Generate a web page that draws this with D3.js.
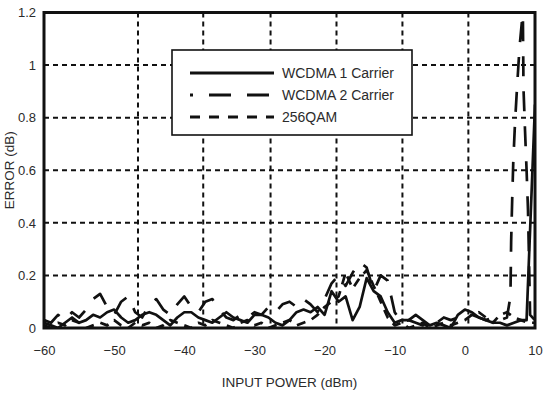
<!DOCTYPE html>
<html>
<head>
<meta charset="utf-8">
<script src="https://cdn.jsdelivr.net/npm/d3@7"></script>
<style>
  html, body { margin: 0; padding: 0; background: #fff; }
  svg { display: block; }
  text { font-family: "Liberation Sans", Arial, sans-serif; fill: #2b2b2b; }
</style>
</head>
<body>
<svg id="chart" width="543" height="394"></svg>
<script>
// Input power axis (dBm) and error axis (dB)
const xTicks = [-60, -50, -40, -30, -20, -10, 0, 10];
const yTicks = [0, 0.2, 0.4, 0.6, 0.8, 1, 1.2];
const yTickLabels = ["0", "0.2", "0.4", "0.6", "0.8", "1", "1.2"];
// positions of the dotted vertical grid, in dBm
const xGrid = [-46.6, -37.3, -27.7, -18.3, -8.9, 0.5];
const yGrid = [0.2, 0.4, 0.6, 0.8, 1.0];

const seriesNames = ["WCDMA 1 Carrier", "WCDMA 2 Carrier", "256QAM"];

// WCDMA 1 carrier error vs input power
const wcdma1X = [-60,-59,-58,-57,-56,-55,-54,-53,-52,-51,-50,-49,-48,-47,-46,-45,-44,-43,-42,-41,-40,-39,-38,-37,-36,-35,-34,-33,-32,-31,-30,-29,-28,-27,-26,-25,-24,-23,-22,-21,-20,-19,-18,-17,-16,-15,-14,-13,-12,-11,-10,-9,-8,-7,-6,-5,-4,-3,-2,-1,0,1,2,3,4,5,6,7,8,8.8,10];
const wcdma1Y = [0.02,0.01,0.00,0.02,0.04,0.02,0.03,0.05,0.04,0.06,0.07,0.04,0.02,0.03,0.05,0.06,0.05,0.03,0.01,0.04,0.06,0.06,0.04,0.03,0.02,0.04,0.06,0.04,0.03,0.02,0.05,0.05,0.04,0.02,0.01,0.03,0.06,0.07,0.06,0.08,0.05,0.14,0.10,0.12,0.03,0.08,0.19,0.14,0.12,0.06,0.02,0.03,0.03,0.05,0.03,0.01,0.02,0.01,0.00,0.05,0.07,0.06,0.04,0.03,0.02,0.02,0.01,0.02,0.03,0.03,0.85];

// WCDMA 2 carrier error vs input power
const wcdma2X = [-60,-59,-58,-57,-56,-55,-54,-53,-52,-51,-50,-49,-48,-47,-46,-45,-44,-43,-42,-41,-40,-39,-38,-37,-36,-35,-34,-33,-32,-31,-30,-29,-28,-27,-26,-25,-24,-23,-22,-21,-20,-19,-18,-17,-16,-15,-14,-13,-12,-11,-10,-9,-8,-7,-6,-5,-4,-3,-2,-1,0,1,2,3,4,5,6,6.5,6.6,6.75,6.9,7.15,7.45,7.8,8.15,8.25,8.36,8.58,8.8,9.0,9.1,9.3,10];
const wcdma2Y = [0.03,0.02,0.05,0.03,0.06,0.04,0.07,0.11,0.13,0.08,0.05,0.10,0.12,0.06,0.04,0.09,0.11,0.07,0.05,0.09,0.12,0.08,0.06,0.10,0.11,0.07,0.04,0.03,0.05,0.04,0.06,0.05,0.08,0.06,0.09,0.10,0.08,0.11,0.09,0.06,0.11,0.17,0.20,0.16,0.21,0.25,0.23,0.14,0.20,0.18,0.06,0.02,0.03,0.02,0.01,0.03,0.02,0.04,0.03,0.04,0.05,0.05,0.04,0.03,0.04,0.03,0.04,0.12,0.33,0.49,0.63,0.78,0.92,1.07,1.17,1.26,0.91,0.75,0.60,0.45,0.32,0.05,0.03];

// 256QAM error vs input power
const qamX = [-60,-59,-58,-57,-56,-55,-54,-53,-52,-51,-50,-49,-48,-47,-46,-45,-44,-43,-42,-41,-40,-39,-38,-37,-36,-35,-34,-33,-32,-31,-30,-29,-28,-27,-26,-25,-24,-23,-22,-21,-20,-19,-18,-17,-16,-15,-14,-13,-12,-11,-10,-9,-8,-7,-6,-5,-4,-3,-2,-1,0,1,2,3,4,5,6,7,8,9,10];
const qamY = [0.01,0.00,0.02,0.01,0.03,0.02,0.00,0.01,0.02,0.01,0.03,0.01,0.00,0.02,0.01,0.02,0.00,0.01,0.03,0.02,0.01,0.00,0.02,0.01,0.03,0.02,0.01,0.00,0.02,0.03,0.01,0.02,0.00,0.01,0.02,0.03,0.01,0.02,0.03,0.05,0.08,0.10,0.12,0.21,0.15,0.19,0.22,0.16,0.10,0.04,0.01,0.02,0.00,0.01,0.02,0.00,0.01,0.02,0.01,0.02,0.03,0.05,0.06,0.04,0.02,0.05,0.06,0.04,0.03,0.02,0.02];

const svg = d3.select("#chart");
const margin = { left: 44, top: 12.5, right: 8, bottom: 66 };
const W = 543, H = 394;
const x = d3.scaleLinear().domain([-60, 10]).range([margin.left, W - margin.right]);
const y = d3.scaleLinear().domain([0, 1.2]).range([H - margin.bottom, margin.top]);

svg.append("defs").append("clipPath").attr("id", "plotClip")
  .append("rect")
  .attr("x", x(-60)).attr("y", y(1.2))
  .attr("width", x(10) - x(-60)).attr("height", y(0) - y(1.2));

// dotted grid
const grid = svg.append("g").attr("stroke", "#111").attr("stroke-width", 2).attr("stroke-dasharray", "5,4");
grid.selectAll("line.v").data(xGrid).join("line").attr("class", "v")
  .attr("x1", d => x(d)).attr("x2", d => x(d))
  .attr("y1", y(1.2)).attr("y2", y(0));
grid.selectAll("line.h").data(yGrid).join("line").attr("class", "h")
  .attr("x1", x(-60)).attr("x2", x(10))
  .attr("y1", d => y(d)).attr("y2", d => y(d));

// data lines
const line = (xs, ys) => d3.line().x((d, i) => x(xs[i])).y(d => y(d))(ys);
const plot = svg.append("g").attr("clip-path", "url(#plotClip)")
  .attr("fill", "none").attr("stroke", "#111").attr("stroke-linejoin", "round");
plot.append("path").attr("d", line(qamX, qamY)).attr("stroke-width", 2.7).attr("stroke-dasharray", "9,7");
plot.append("path").attr("d", line(wcdma2X, wcdma2Y)).attr("stroke-width", 2.7).attr("stroke-dasharray", "20,15");
plot.append("path").attr("d", line(wcdma1X, wcdma1Y)).attr("stroke-width", 2.7);

// frame
svg.append("rect")
  .attr("x", x(-60)).attr("y", y(1.2))
  .attr("width", x(10) - x(-60)).attr("height", y(0) - y(1.2))
  .attr("fill", "none").attr("stroke", "#111").attr("stroke-width", 3);

// axes (labels only, frame draws the lines)
const xAxis = svg.append("g").attr("transform", `translate(0,${y(0)})`)
  .call(d3.axisBottom(x).tickValues(xTicks).tickSize(0).tickPadding(18).tickFormat(d3.format("d")));
xAxis.select(".domain").remove();
xAxis.selectAll("text").style("font-size", "13px").attr("fill", "#2b2b2b");

const yAxis = svg.append("g").attr("transform", `translate(${x(-60)},0)`)
  .call(d3.axisLeft(y).tickValues(yTicks).tickSize(0).tickPadding(8).tickFormat((d, i) => yTickLabels[i]));
yAxis.select(".domain").remove();
yAxis.selectAll("text").style("font-size", "13px").attr("fill", "#2b2b2b");

svg.append("text").attr("x", (x(-60) + x(10)) / 2).attr("y", 387)
  .attr("text-anchor", "middle").style("font-size", "13.5px").text("INPUT POWER (dBm)");
svg.append("text").attr("transform", `translate(14,${(y(0) + y(1.2)) / 2}) rotate(-90)`)
  .attr("text-anchor", "middle").style("font-size", "13.5px").text("ERROR (dB)");

// legend
const lg = svg.append("g");
lg.append("rect").attr("x", 172).attr("y", 50).attr("width", 240).attr("height", 85)
  .attr("fill", "#fff").attr("stroke", "#111").attr("stroke-width", 1.6);
const styles = [
  { dash: null, offset: 0 },
  { dash: "22,16", offset: 19 },
  { dash: "10,9", offset: 0 }
];
const rowY = [73, 95, 117];
seriesNames.forEach((name, i) => {
  lg.append("line").attr("x1", 190).attr("x2", 274).attr("y1", rowY[i]).attr("y2", rowY[i])
    .attr("stroke", "#111").attr("stroke-width", 2.8)
    .attr("stroke-dasharray", styles[i].dash).attr("stroke-dashoffset", styles[i].offset);
  lg.append("text").attr("x", 282).attr("y", rowY[i] + 5).style("font-size", "14px").text(name);
});
</script>
</body>
</html>
